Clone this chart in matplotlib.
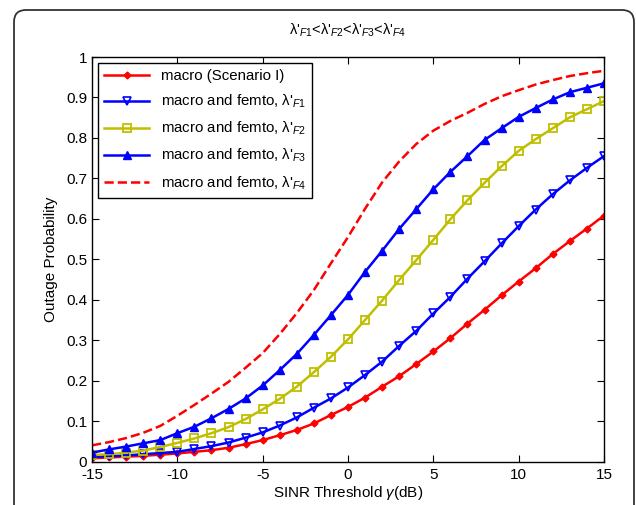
import numpy as np
import matplotlib
matplotlib.use("Agg")
import matplotlib.pyplot as plt
from matplotlib.patches import FancyBboxPatch

plt.rcParams['font.family'] = ['Liberation Sans', 'DejaVu Sans']
plt.rcParams['mathtext.fontset'] = 'custom'
plt.rcParams['mathtext.rm'] = 'Liberation Sans'
plt.rcParams['mathtext.it'] = 'Liberation Sans:italic'
plt.rcParams['axes.unicode_minus'] = False

# SINR threshold (dB)
sinr_db = np.arange(-15, 16)

macro = [0.008, 0.010, 0.012, 0.014, 0.017, 0.020, 0.024, 0.028, 0.034, 0.043,
         0.053, 0.065, 0.078, 0.094, 0.115, 0.135, 0.158, 0.185, 0.211, 0.241,
         0.272, 0.305, 0.341, 0.375, 0.411, 0.445, 0.478, 0.513, 0.545, 0.576, 0.608]
femto_f1 = [0.012, 0.013, 0.015, 0.018, 0.021, 0.024, 0.031, 0.038, 0.047, 0.059,
            0.072, 0.089, 0.109, 0.133, 0.156, 0.183, 0.214, 0.247, 0.286, 0.323,
            0.366, 0.407, 0.452, 0.495, 0.539, 0.582, 0.623, 0.661, 0.695, 0.726, 0.755]
femto_f2 = [0.016, 0.018, 0.022, 0.027, 0.036, 0.046, 0.057, 0.070, 0.085, 0.105,
            0.129, 0.155, 0.185, 0.221, 0.259, 0.302, 0.350, 0.398, 0.449, 0.498,
            0.548, 0.599, 0.646, 0.689, 0.730, 0.768, 0.797, 0.824, 0.851, 0.871, 0.891]
femto_f3 = [0.022, 0.030, 0.037, 0.045, 0.053, 0.070, 0.086, 0.107, 0.130, 0.156,
            0.188, 0.226, 0.266, 0.313, 0.362, 0.412, 0.469, 0.521, 0.575, 0.624,
            0.673, 0.716, 0.755, 0.795, 0.824, 0.852, 0.874, 0.895, 0.913, 0.924, 0.935]
femto_f4 = [0.040, 0.048, 0.058, 0.071, 0.088, 0.113, 0.140, 0.168, 0.197, 0.232,
            0.268, 0.315, 0.367, 0.424, 0.490, 0.555, 0.625, 0.690, 0.742, 0.785,
            0.818, 0.842, 0.862, 0.884, 0.903, 0.918, 0.932, 0.943, 0.953, 0.960, 0.966]

# upright lambda with prime, italic subscript
lam = "λ'$_{%s}$"
labels = ['macro (Scenario I)',
          'macro and femto, ' + lam % 'F1',
          'macro and femto, ' + lam % 'F2',
          'macro and femto, ' + lam % 'F3',
          'macro and femto, ' + lam % 'F4']

fig = plt.figure(figsize=(6.36, 5.05), dpi=100)

# rounded frame around the whole picture
frame = FancyBboxPatch((14, -40), 620, 535, boxstyle="round,pad=0,rounding_size=12",
                       transform=None, fill=False, edgecolor='#333333', lw=1.3)
fig.patches.append(frame)

ax = fig.add_axes([0.1447, 0.0861, 0.8050, 0.8010])

ax.plot(sinr_db, macro, color='red', marker='D', markersize=3.5, lw=1.8, label=labels[0])
ax.plot(sinr_db, femto_f1, color='blue', marker='v', markersize=6, lw=1.8,
        markerfacecolor='none', markeredgewidth=1.2, label=labels[1])
ax.plot(sinr_db, femto_f2, color='#bfbf00', marker='s', markersize=6, lw=1.8,
        markerfacecolor='none', markeredgewidth=1.3, label=labels[2])
ax.plot(sinr_db, femto_f3, color='blue', marker='^', markersize=6, lw=1.8, label=labels[3])
ax.plot(sinr_db, femto_f4, color='red', ls='--', lw=1.8, label=labels[4])

ax.set_xlim(-15, 15)
ax.set_ylim(0, 1)
ax.set_xticks(np.arange(-15, 16, 5))
ax.set_yticks(np.arange(0, 1.01, 0.1))
ax.set_yticklabels(['0', '0.1', '0.2', '0.3', '0.4', '0.5', '0.6', '0.7', '0.8', '0.9', '1'])
ax.tick_params(direction='in', top=True, right=True, length=5, labelsize=11)
ax.tick_params(axis='x', pad=5)
for s in ax.spines.values():
    s.set_linewidth(1.0)

ax.set_xlabel(r'SINR Threshold $\gamma$(dB)', fontsize=11, labelpad=1)
ax.set_ylabel('Outage Probability', fontsize=11, labelpad=6)
ax.set_title(lam % 'F1' + '<' + lam % 'F2' + '<' + lam % 'F3' + '<' + lam % 'F4',
             fontsize=10.5, pad=16)

leg = ax.legend(loc='upper left', fontsize=10.8, handlelength=3.0, labelspacing=0.65,
                borderaxespad=0.4, fancybox=False, edgecolor='black', framealpha=1)
leg.get_frame().set_linewidth(1.0)

fig.savefig('out.png', dpi=100)
